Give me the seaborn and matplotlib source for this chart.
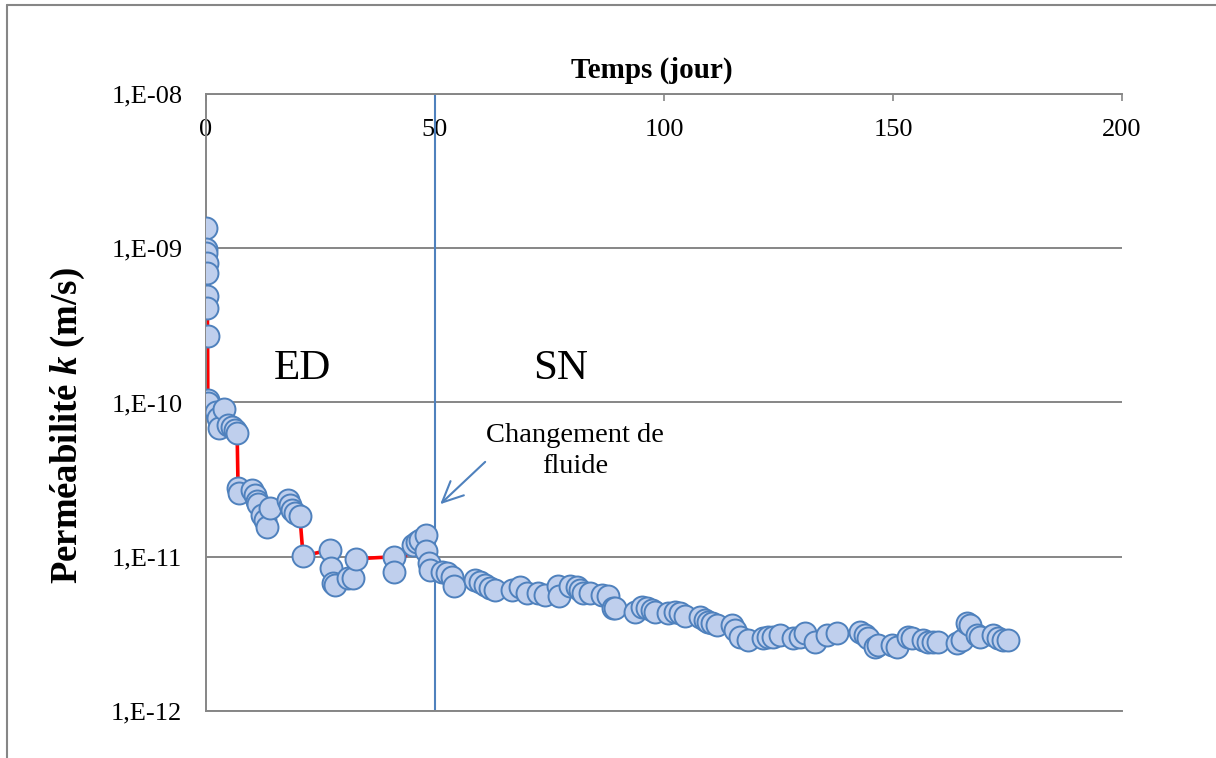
import numpy as np
import pandas as pd
import matplotlib
matplotlib.use("Agg")
import matplotlib.pyplot as plt
import seaborn as sns
from matplotlib.lines import Line2D
from matplotlib.ticker import FuncFormatter

# Temps (jour) and permeabilite k (m/s)
days = [0.0, 0.05, 0.1, 0.15, 0.2, 0.25, 0.3, 0.35, 0.4, 0.5,
        2.2, 2.6, 2.8, 3.9, 4.8, 5.7, 6.3, 6.8,
        7.0, 7.1, 10.0, 10.7, 11.1, 11.4, 12.2, 12.9, 13.3, 14.0,
        17.9, 18.3, 18.8, 19.4, 20.5, 21.2,
        27.1, 27.3, 27.7, 28.2, 31.0, 32.1, 32.8,
        41.0, 41.1, 45.2, 46.1, 46.7, 48.0, 48.1, 48.7, 48.9,
        51.5, 52.6, 53.7, 54.1, 58.7, 59.8, 60.9, 62.0, 63.1,
        66.8, 68.6, 70.1, 72.5, 74.0, 76.9, 77.0, 79.5, 81.0, 81.7, 82.3, 83.8,
        86.5, 87.8, 88.9, 89.3, 93.7, 95.2, 96.3, 97.4, 98.0,
        100.9, 102.4, 103.5, 104.6, 107.9, 109.0, 109.6, 110.5, 111.6,
        114.8, 115.5, 116.6, 118.3, 121.6, 122.7, 123.8, 125.3,
        128.2, 129.7, 130.8, 133.0, 135.6, 137.8,
        142.8, 143.9, 144.5, 146.1, 146.7, 149.8, 150.9,
        153.3, 154.1, 156.6, 157.6, 158.7, 159.8,
        164.0, 165.1, 166.2, 166.8, 168.3, 169.0,
        171.8, 172.9, 174.0, 175.1]
k_values = [1.35e-9, 9.9e-10, 9.3e-10, 8.0e-10, 6.9e-10, 4.9e-10, 4.1e-10, 2.7e-10, 1.04e-10, 9.9e-11,
            8.7e-11, 7.9e-11, 6.8e-11, 9.1e-11, 7.1e-11, 6.9e-11, 6.6e-11, 6.3e-11,
            2.8e-11, 2.6e-11, 2.7e-11, 2.5e-11, 2.3e-11, 2.2e-11, 1.87e-11, 1.73e-11, 1.56e-11, 2.07e-11,
            2.33e-11, 2.16e-11, 2.01e-11, 1.92e-11, 1.84e-11, 1.01e-11,
            1.11e-11, 8.5e-12, 6.8e-12, 6.6e-12, 7.3e-12, 7.3e-12, 9.7e-12,
            1.0e-11, 8.0e-12, 1.19e-11, 1.25e-11, 1.28e-11, 1.38e-11, 1.09e-11, 9.1e-12, 8.2e-12,
            8.0e-12, 7.85e-12, 7.4e-12, 6.5e-12, 7.06e-12, 6.86e-12, 6.56e-12, 6.27e-12, 6.09e-12,
            6.09e-12, 6.37e-12, 5.82e-12, 5.82e-12, 5.65e-12, 6.46e-12, 5.57e-12, 6.46e-12, 6.37e-12, 6.09e-12, 5.82e-12, 5.82e-12,
            5.65e-12, 5.57e-12, 4.66e-12, 4.66e-12, 4.38e-12, 4.72e-12, 4.66e-12, 4.52e-12, 4.38e-12,
            4.32e-12, 4.38e-12, 4.32e-12, 4.13e-12, 4.07e-12, 3.89e-12, 3.78e-12, 3.72e-12, 3.61e-12,
            3.61e-12, 3.35e-12, 3.02e-12, 2.89e-12, 2.97e-12, 3.02e-12, 3.02e-12, 3.11e-12,
            2.97e-12, 3.02e-12, 3.21e-12, 2.80e-12, 3.11e-12, 3.21e-12,
            3.25e-12, 3.11e-12, 2.97e-12, 2.60e-12, 2.68e-12, 2.68e-12, 2.60e-12,
            3.02e-12, 2.97e-12, 2.89e-12, 2.80e-12, 2.80e-12, 2.80e-12,
            2.75e-12, 2.89e-12, 3.72e-12, 3.61e-12, 3.11e-12, 3.02e-12,
            3.11e-12, 2.97e-12, 2.89e-12, 2.89e-12]

x_ticks = [0, 50, 100, 150, 200]
y_ticks = [1e-12, 1e-11, 1e-10, 1e-9, 1e-8]
fluid_change_day = 50

df = pd.DataFrame({"Temps": days, "k": k_values})

sns.set_style("white")
plt.rcParams["font.family"] = ["Liberation Serif", "DejaVu Serif"]
plt.rcParams["text.color"] = "black"
plt.rcParams["xtick.labelcolor"] = "black"
plt.rcParams["ytick.labelcolor"] = "black"
plt.rcParams["mathtext.fontset"] = "custom"
plt.rcParams["mathtext.rm"] = "Liberation Serif"
plt.rcParams["mathtext.bfit"] = "Liberation Serif:italic:bold"

grey = "#868686"
blue = "#4f81bd"

fig = plt.figure(figsize=(12.16, 7.58), dpi=100)
ax = fig.add_axes([0.1694, 0.062, 0.7533, 0.814])

ax.set_yscale("log")
for yv in y_ticks:
    ax.axhline(yv, color=grey, lw=1.4, zorder=0)

ax.axvline(fluid_change_day, color=blue, lw=1.5, zorder=1)

sns.lineplot(data=df, x="Temps", y="k", sort=False, color="red", lw=2.6,
             estimator=None, ax=ax, zorder=2)
sns.scatterplot(data=df, x="Temps", y="k", s=250, color="#bfcfed",
                edgecolor=blue, linewidth=1.4, ax=ax, zorder=3)

ax.set_xlim(0, 200)
ax.set_ylim(1e-12, 1e-8)
ax.set_xticks(x_ticks)
ax.set_yticks(y_ticks)
ax.yaxis.set_minor_locator(matplotlib.ticker.NullLocator())
ax.yaxis.set_major_formatter(FuncFormatter(lambda v, _: f"1,E{int(round(np.log10(v))):03d}"))

ax.xaxis.set_ticks_position("top")
ax.tick_params(axis="x", direction="in", length=5, width=1.2, color=grey,
               labeltop=True, labelbottom=False, labelsize=19, pad=-18)
ax.tick_params(axis="y", direction="out", length=7, width=1.2, color=grey,
               labelsize=19, pad=10)
for lab in ax.get_xticklabels():
    lab.set_va("top")

ax.spines["right"].set_visible(False)
for side in ["left", "top", "bottom"]:
    ax.spines[side].set_color(grey)
    ax.spines[side].set_linewidth(1.4)

ax.set_xlabel("")
ax.set_ylabel("")
ax.set_title("Temps (jour)", fontsize=21, fontweight="bold", pad=12, x=0.487)
fig.text(0.056, 0.438, r"Perméabilité $\mathbfit{k}$ (m/s)", rotation=90,
         fontsize=26.5, fontweight="bold", va="center", ha="center")

ax.text(21, 1.65e-10, "ED", fontsize=31, ha="center", va="center")
ax.text(77.5, 1.65e-10, "SN", fontsize=31, ha="center", va="center")
ax.text(80.6, 4.85e-11, "Changement de\nfluide", fontsize=20.5, ha="center",
        va="center", linespacing=1.3)
ax.annotate("", xy=(50.7, 2.13e-11), xytext=(61.4, 4.24e-11),
            arrowprops=dict(arrowstyle="->,head_length=1.5,head_width=0.7",
                            color=blue, lw=1.5))

# chart frame (left and top)
fig.add_artist(Line2D([0.006, 0.006], [0, 0.994], color=grey, lw=1.5))
fig.add_artist(Line2D([0.006, 1.0], [0.994, 0.994], color=grey, lw=1.5))

fig.savefig("out.png", dpi=100)
